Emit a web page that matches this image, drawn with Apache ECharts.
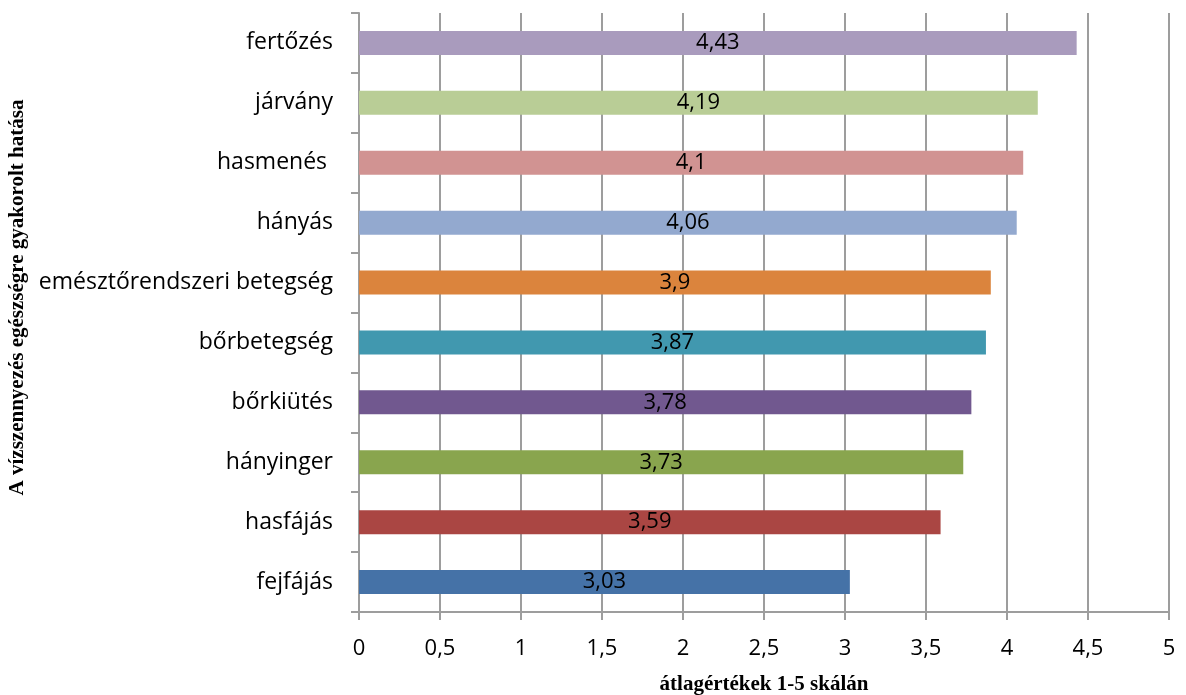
<!DOCTYPE html>
<html>
<head>
<meta charset="utf-8">
<script src="https://cdn.jsdelivr.net/npm/echarts@6/dist/echarts.min.js"></script>
<style>
  html, body { margin: 0; padding: 0; background: #ffffff; }
  #chart { width: 1186px; height: 695px; }
</style>
</head>
<body>
<div id="chart"></div>
<script>
// Categories listed bottom-to-top (category axis starts at the bottom)
const categories = [
  'fejfájás', 'hasfájás', 'hányinger', 'bőrkiütés', 'bőrbetegség',
  'emésztőrendszeri betegség', 'hányás', 'hasmenés ', 'járvány', 'fertőzés'
];
const values = [3.03, 3.59, 3.73, 3.78, 3.87, 3.9, 4.06, 4.1, 4.19, 4.43];
const barColors = [
  '#4572A7', '#AA4643', '#89A54E', '#71588F', '#4198AF',
  '#DB843D', '#93A9CF', '#D19392', '#B9CD96', '#A99BBD'
];
const xTickValues = [0, 0.5, 1, 1.5, 2, 2.5, 3, 3.5, 4, 4.5, 5];

const gridColor = '#9d9d9d';
const labelFont = '"Open Sans", "Noto Sans", sans-serif';
const titleFont = '"Liberation Serif", "DejaVu Serif", serif';
const fmt = v => String(v).replace('.', ',');

const chart = echarts.init(document.getElementById('chart'), null, { renderer: 'canvas' });

chart.setOption({
  animation: false,
  grid: {
    left: 359, right: 17, top: 13, bottom: 83,
    containLabel: false,
    outerBoundsMode: 'none'
  },
  xAxis: {
    type: 'value',
    min: xTickValues[0],
    max: xTickValues[xTickValues.length - 1],
    interval: 0.5,
    name: 'átlagértékek 1-5 skálán',
    nameLocation: 'middle',
    nameGap: 62,
    nameTextStyle: {
      fontFamily: titleFont,
      fontWeight: 'bold',
      fontSize: 21,
      color: '#000'
    },
    axisLine: { show: true, lineStyle: { color: gridColor, width: 2 } },
    axisTick: { show: true, length: 8, lineStyle: { color: gridColor, width: 2 } },
    axisLabel: {
      margin: 26,
      fontFamily: labelFont,
      fontSize: 22,
      color: '#000',
      formatter: fmt
    },
    splitLine: { show: true, lineStyle: { color: gridColor, width: 2 } }
  },
  yAxis: {
    type: 'category',
    data: categories,
    boundaryGap: true,
    name: 'A vízszennyezés egészségre gyakorolt hatása',
    nameLocation: 'middle',
    nameGap: 330,
    nameRotate: 90,
    nameTextStyle: {
      fontFamily: titleFont,
      fontWeight: 'bold',
      fontSize: 21,
      color: '#000',
      padding: [0, 0, 0, 30]
    },
    axisLine: { show: true, lineStyle: { color: gridColor, width: 2 } },
    axisTick: { show: true, length: 8, lineStyle: { color: gridColor, width: 2 } },
    axisLabel: {
      margin: 26,
      fontFamily: labelFont,
      fontSize: 23,
      color: '#000'
    },
    splitLine: { show: false }
  },
  series: [{
    type: 'bar',
    data: values.map((v, i) => ({ value: v, itemStyle: { color: barColors[i] } })),
    barWidth: 24,
    label: {
      show: true,
      position: 'inside',
      fontFamily: labelFont,
      fontSize: 22,
      color: '#000',
      formatter: p => fmt(p.value)
    }
  }]
});
</script>
</body>
</html>
